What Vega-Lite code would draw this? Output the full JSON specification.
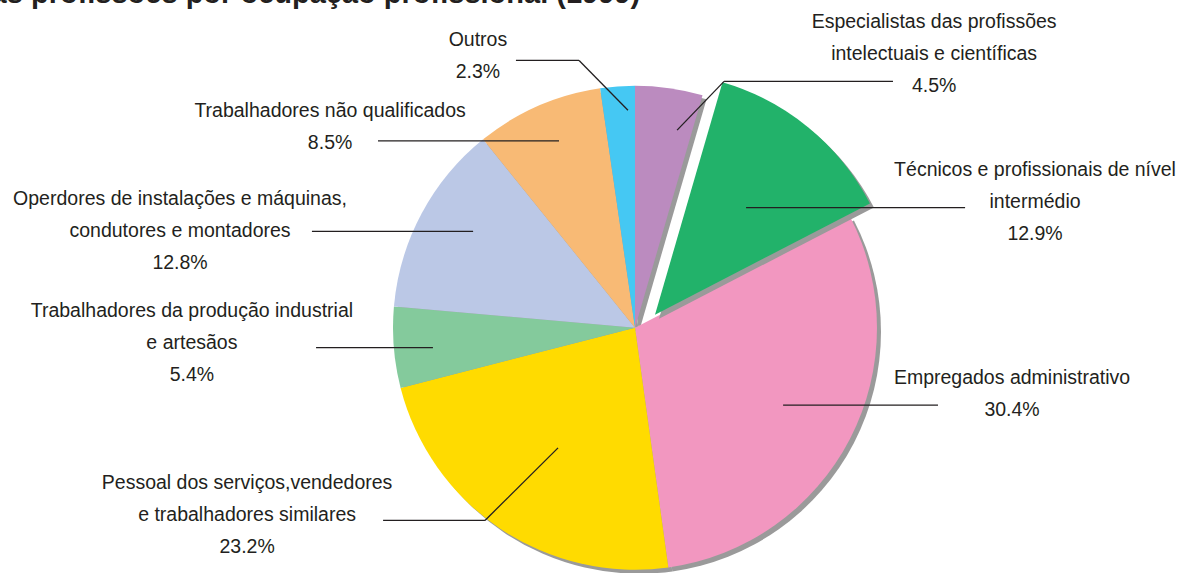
{
  "$schema": "https://vega.github.io/schema/vega-lite/v6.json",
  "width": 1181,
  "height": 573,
  "autosize": {"type": "fit", "contains": "padding"},
  "padding": 0,
  "background": "white",
  "config": {"view": {"stroke": null}},
  "datasets": {
    "slices": [
      {"ord": 1, "cat": "Especialistas das profissões intelectuais e científicas", "pct": 4.5},
      {"ord": 2, "cat": "Técnicos e profissionais de nível intermédio", "pct": 12.9},
      {"ord": 3, "cat": "Empregados administrativo", "pct": 30.4},
      {"ord": 4, "cat": "Pessoal dos serviços,vendedores e trabalhadores similares", "pct": 23.2},
      {"ord": 5, "cat": "Trabalhadores da produção industrial e artesãos", "pct": 5.4},
      {"ord": 6, "cat": "Operdores de instalações e máquinas, condutores e montadores", "pct": 12.8},
      {"ord": 7, "cat": "Trabalhadores não qualificados", "pct": 8.5},
      {"ord": 8, "cat": "Outros", "pct": 2.3}
    ],
    "labels": [
      {"txt": "Outros\n2.3%", "u": -0.649, "v": 1.198},
      {"txt": "Especialistas das profissões\nintelectuais e científicas\n4.5%", "u": 1.236, "v": 1.273},
      {"txt": "Técnicos e profissionais de nível\nintermédio\n12.9%", "u": 1.653, "v": 0.657},
      {"txt": "Empregados administrativo\n30.4%", "u": 1.558, "v": -0.211},
      {"txt": "Pessoal dos serviços,vendedores\ne trabalhadores similares\n23.2%", "u": -1.603, "v": -0.645},
      {"txt": "Trabalhadores da produção industrial\ne artesãos\n5.4%", "u": -1.831, "v": 0.070},
      {"txt": "Operdores de instalações e máquinas,\ncondutores e montadores\n12.8%", "u": -1.880, "v": 0.537},
      {"txt": "Trabalhadores não qualificados\n8.5%", "u": -1.260, "v": 0.901}
    ],
    "leaders": [
      {"u": -0.492, "v": 1.112, "u2": -0.231, "v2": 1.112},
      {"u": -0.231, "v": 1.112, "u2": -0.029, "v2": 0.905},
      {"u": 1.066, "v": 1.025, "u2": 0.368, "v2": 1.025},
      {"u": 0.368, "v": 1.025, "u2": 0.174, "v2": 0.822},
      {"u": 0.459, "v": 0.500, "u2": 1.364, "v2": 0.500},
      {"u": 0.612, "v": -0.322, "u2": 1.252, "v2": -0.322},
      {"u": -1.041, "v": -0.802, "u2": -0.620, "v2": -0.802},
      {"u": -0.620, "v": -0.802, "u2": -0.318, "v2": -0.500},
      {"u": -1.318, "v": -0.083, "u2": -0.835, "v2": -0.083},
      {"u": -1.335, "v": 0.401, "u2": -0.669, "v2": 0.401},
      {"u": -1.062, "v": 0.777, "u2": -0.314, "v2": 0.777}
    ],
    "title": [
      {"txt": "Estrutura do emprego nas profissões por ocupação profissional (1999)", "u": 0.021, "v": 1.352}
    ]
  },
  "layer": [
    {
      "data": {"name": "slices"},
      "mark": {"type": "arc", "outerRadius": 242, "xOffset": 4, "yOffset": 4, "color": "#9a9a9a"},
      "encoding": {
        "x": {"datum": 0, "type": "quantitative", "scale": {"domain": [-2.624, 2.2562], "nice": false, "zero": false}, "axis": null},
        "y": {"datum": 0, "type": "quantitative", "scale": {"domain": [-1.0041, 1.3636], "nice": false, "zero": false}, "axis": null},
        "theta": {"field": "pct", "type": "quantitative", "stack": true},
        "order": {"field": "ord", "type": "quantitative"},
        "fillOpacity": {"condition": {"test": "datum.ord === 2", "value": 0}, "value": 1}
      }
    },
    {
      "data": {"name": "slices"},
      "mark": {"type": "arc", "outerRadius": 242},
      "encoding": {
        "x": {"datum": 0, "type": "quantitative"},
        "y": {"datum": 0, "type": "quantitative"},
        "theta": {"field": "pct", "type": "quantitative", "stack": true},
        "order": {"field": "ord", "type": "quantitative"},
        "color": {"field": "cat", "type": "nominal", "legend": null, "sort": null,
          "scale": {
            "domain": [
              "Especialistas das profissões intelectuais e científicas",
              "Técnicos e profissionais de nível intermédio",
              "Empregados administrativo",
              "Pessoal dos serviços,vendedores e trabalhadores similares",
              "Trabalhadores da produção industrial e artesãos",
              "Operdores de instalações e máquinas, condutores e montadores",
              "Trabalhadores não qualificados",
              "Outros"
            ],
            "range": ["#bb8bbf", "#22b26a", "#f297c0", "#ffdb00", "#84ca9c", "#bbc8e6", "#f8ba75", "#45c8f3"]
          }
        },
        "fillOpacity": {"condition": {"test": "datum.ord === 2", "value": 0}, "value": 1}
      }
    },
    {
      "data": {"name": "slices"},
      "mark": {"type": "arc", "outerRadius": 242, "xOffset": 24, "yOffset": -9, "color": "#9a9a9a"},
      "encoding": {
        "x": {"datum": 0, "type": "quantitative"},
        "y": {"datum": 0, "type": "quantitative"},
        "theta": {"field": "pct", "type": "quantitative", "stack": true},
        "order": {"field": "ord", "type": "quantitative"},
        "fillOpacity": {"condition": {"test": "datum.ord === 2", "value": 1}, "value": 0}
      }
    },
    {
      "data": {"name": "slices"},
      "mark": {"type": "arc", "outerRadius": 242, "xOffset": 20, "yOffset": -13, "color": "#22b26a"},
      "encoding": {
        "x": {"datum": 0, "type": "quantitative"},
        "y": {"datum": 0, "type": "quantitative"},
        "theta": {"field": "pct", "type": "quantitative", "stack": true},
        "order": {"field": "ord", "type": "quantitative"},
        "fillOpacity": {"condition": {"test": "datum.ord === 2", "value": 1}, "value": 0}
      }
    },
    {
      "data": {"name": "leaders"},
      "mark": {"type": "rule", "color": "#231f20", "strokeWidth": 1.3},
      "encoding": {
        "x": {"field": "u", "type": "quantitative"},
        "y": {"field": "v", "type": "quantitative"},
        "x2": {"field": "u2"},
        "y2": {"field": "v2"}
      }
    },
    {
      "data": {"name": "labels"},
      "mark": {"type": "text", "font": "Liberation Sans", "fontSize": 19.5, "lineHeight": 32, "align": "center", "baseline": "middle", "lineBreak": "\n", "color": "#231f20"},
      "encoding": {
        "x": {"field": "u", "type": "quantitative"},
        "y": {"field": "v", "type": "quantitative"},
        "text": {"field": "txt", "type": "nominal"}
      }
    },
    {
      "data": {"name": "title"},
      "mark": {"type": "text", "font": "Liberation Sans", "fontSize": 29, "fontWeight": "bold", "align": "right", "baseline": "alphabetic", "color": "#231f20", "clip": true},
      "encoding": {
        "x": {"field": "u", "type": "quantitative"},
        "y": {"field": "v", "type": "quantitative"},
        "text": {"field": "txt", "type": "nominal"}
      }
    }
  ]
}
